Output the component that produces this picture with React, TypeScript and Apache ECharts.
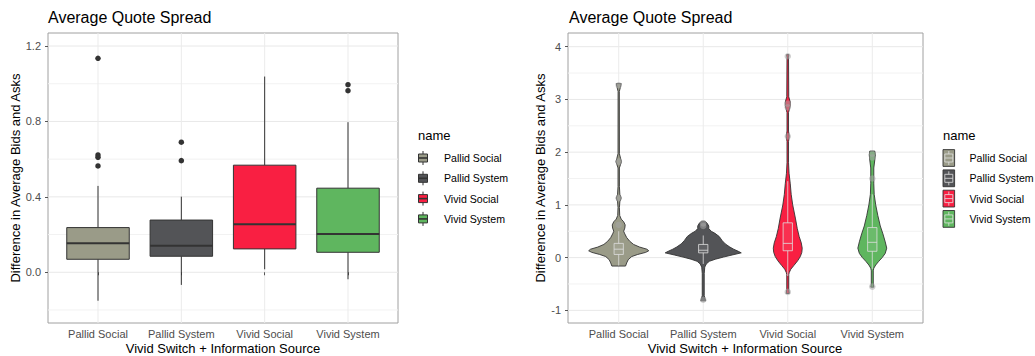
import React, { useEffect, useRef } from "react";
import * as echarts from "echarts";

const FONT = "Liberation Sans, Arial, Helvetica, sans-serif";

const CATEGORIES = ["Pallid Social", "Pallid System", "Vivid Social", "Vivid System"];
const COLORS = ["#9a9b88", "#535457", "#f91f42", "#5fb65f"];
const TITLE = "Average Quote Spread";
const X_TITLE = "Vivid Switch + Information Source";
const Y_TITLE = "Difference in Average Bids and Asks";
const LEGEND_TITLE = "name";

// ---- Left panel: boxplot [lower whisker, Q1, median, Q3, upper whisker]
const BOX_PALLID_SOCIAL = [-0.151, 0.069, 0.154, 0.237, 0.458];
const BOX_PALLID_SYSTEM = [-0.067, 0.085, 0.141, 0.277, 0.401];
const BOX_VIVID_SOCIAL = [0.016, 0.124, 0.255, 0.568, 1.038];
const BOX_VIVID_SYSTEM = [-0.037, 0.106, 0.203, 0.446, 0.796];
const BOX_STATS = [BOX_PALLID_SOCIAL, BOX_PALLID_SYSTEM, BOX_VIVID_SOCIAL, BOX_VIVID_SYSTEM];

const OUT_PALLID_SOCIAL = [1.135, 0.622, 0.61, 0.564];
const OUT_PALLID_SYSTEM = [0.69, 0.592];
const OUT_VIVID_SOCIAL: number[] = [];
const OUT_VIVID_SYSTEM = [0.995, 0.963];
const BOX_OUTLIERS = [OUT_PALLID_SOCIAL, OUT_PALLID_SYSTEM, OUT_VIVID_SOCIAL, OUT_VIVID_SYSTEM];

const LEFT_Y_TICKS = [0, 0.4, 0.8, 1.2];
const LEFT_Y_MINOR = [-0.2, 0.2, 0.6, 1.0];
const LEFT_Y_MIN = -0.269;
const LEFT_Y_MAX = 1.269;

// ---- Right panel: violin density profiles [value, relative density]
const VIOLIN_PALLID_SOCIAL = [
  [-0.16, 0.18], [-0.1, 0.21], [-0.04, 0.25], [0.02, 0.34], [0.06, 0.5], [0.1, 0.71],
  [0.13, 0.79], [0.16, 0.74], [0.2, 0.55], [0.25, 0.39], [0.31, 0.29], [0.38, 0.21],
  [0.45, 0.16], [0.5, 0.13], [0.56, 0.16], [0.62, 0.17], [0.68, 0.13], [0.73, 0.066],
  [0.8, 0.026], [0.95, 0.018], [1.06, 0.03], [1.13, 0.066], [1.2, 0.03], [1.35, 0.018],
  [1.7, 0.018], [1.77, 0.05], [1.82, 0.074], [1.88, 0.05], [1.97, 0.018], [3.15, 0.016],
  [3.22, 0.04], [3.3, 0.066],
];
const VIOLIN_PALLID_SYSTEM = [
  [-0.82, 0.066], [-0.78, 0.05], [-0.72, 0.026], [-0.3, 0.026], [-0.18, 0.04], [-0.12, 0.08],
  [-0.07, 0.16], [-0.03, 0.32], [0.01, 0.53], [0.05, 0.76], [0.09, 1.0], [0.12, 0.92],
  [0.16, 0.8], [0.2, 0.7], [0.26, 0.58], [0.32, 0.5], [0.4, 0.42], [0.46, 0.31],
  [0.5, 0.21], [0.55, 0.145], [0.6, 0.145], [0.65, 0.105], [0.69, 0.05],
];
const VIOLIN_VIVID_SOCIAL = [
  [-0.68, 0.04], [-0.6, 0.026], [-0.32, 0.026], [-0.28, 0.04], [-0.22, 0.08], [-0.15, 0.16],
  [-0.06, 0.26], [0.02, 0.33], [0.1, 0.37], [0.18, 0.38], [0.28, 0.355], [0.4, 0.3],
  [0.55, 0.25], [0.75, 0.2], [1.0, 0.13], [1.2, 0.09], [1.4, 0.066], [1.6, 0.034],
  [1.8, 0.02], [2.2, 0.02], [2.3, 0.04], [2.4, 0.02], [2.75, 0.02], [2.88, 0.066],
  [2.95, 0.066], [3.05, 0.026], [3.8, 0.02], [3.85, 0.03],
];
const VIOLIN_VIVID_SYSTEM = [
  [-0.56, 0.04], [-0.5, 0.026], [-0.25, 0.026], [-0.2, 0.04], [-0.14, 0.09], [-0.07, 0.17],
  [0.0, 0.26], [0.08, 0.34], [0.18, 0.38], [0.3, 0.34], [0.45, 0.28], [0.6, 0.21],
  [0.8, 0.145], [1.0, 0.09], [1.2, 0.05], [1.4, 0.04], [1.7, 0.04], [1.85, 0.066],
  [1.95, 0.08], [2.02, 0.066],
];
const VIOLINS = [VIOLIN_PALLID_SOCIAL, VIOLIN_PALLID_SYSTEM, VIOLIN_VIVID_SOCIAL, VIOLIN_VIVID_SYSTEM];

// inner boxplots of the right panel
const INNER_PALLID_SOCIAL = [-0.15, 0.06, 0.16, 0.27, 0.5];
const INNER_PALLID_SYSTEM = [-0.12, 0.09, 0.14, 0.25, 0.42];
const INNER_VIVID_SOCIAL = [-0.35, 0.13, 0.27, 0.66, 1.45];
const INNER_VIVID_SYSTEM = [-0.22, 0.12, 0.29, 0.57, 1.2];
const INNER_STATS = [INNER_PALLID_SOCIAL, INNER_PALLID_SYSTEM, INNER_VIVID_SOCIAL, INNER_VIVID_SYSTEM];

const INNER_OUT_PALLID_SOCIAL = [0.62, 1.13, 1.82, 3.27];
const INNER_OUT_PALLID_SYSTEM = [0.6, 0.65, -0.8];
const INNER_OUT_VIVID_SOCIAL = [-0.65, 2.3, 2.85, 2.92, 3.82];
const INNER_OUT_VIVID_SYSTEM = [-0.55, 1.5, 1.9, 1.97];
const INNER_OUTLIERS = [INNER_OUT_PALLID_SOCIAL, INNER_OUT_PALLID_SYSTEM, INNER_OUT_VIVID_SOCIAL, INNER_OUT_VIVID_SYSTEM];

const RIGHT_Y_TICKS = [-1, 0, 1, 2, 3, 4];
const RIGHT_Y_MINOR = [-0.5, 0.5, 1.5, 2.5, 3.5];
const RIGHT_Y_MIN = -1.24;
const RIGHT_Y_MAX = 4.26;

const X_POS = [1, 2, 3, 4];
const X_MIN = 0.4;
const X_MAX = 4.6;
const BOX_HALF = 0.375;
const INNER_HALF = 0.055;
const VIOLIN_HALF = 0.45;

function gridRender(params: any, api: any) {
  const kind = api.value(0);
  const v = api.value(1);
  const cs = params.coordSys;
  if (kind === 2) {
    const x = api.coord([v, 0])[0];
    return {
      type: "line",
      shape: { x1: x, y1: cs.y, x2: x, y2: cs.y + cs.height },
      style: { stroke: "#ebebeb", lineWidth: 1 },
      silent: true,
    };
  }
  const y = api.coord([1, v])[1];
  return {
    type: "line",
    shape: { x1: cs.x, y1: y, x2: cs.x + cs.width, y2: y },
    style: { stroke: kind === 0 ? "#e8e8e8" : "#f2f2f2", lineWidth: 1 },
    silent: true,
  };
}

function makeBoxRender(halfW: number, fillOf: (i: number) => string, stroke: string, lineW: number, medW: number) {
  return (params: any, api: any) => {
    const c = api.value(0);
    const lw = api.value(1), q1 = api.value(2), med = api.value(3), q3 = api.value(4), uw = api.value(5);
    const tl = api.coord([c - halfW, q3]);
    const br = api.coord([c + halfW, q1]);
    const a = api.coord([c, lw]);
    const b = api.coord([c, q1]);
    const d = api.coord([c, q3]);
    const e = api.coord([c, uw]);
    const ml = api.coord([c - halfW, med]);
    const mr = api.coord([c + halfW, med]);
    return {
      type: "group",
      children: [
        { type: "line", shape: { x1: a[0], y1: a[1], x2: b[0], y2: b[1] }, style: { stroke, lineWidth: lineW } },
        { type: "line", shape: { x1: d[0], y1: d[1], x2: e[0], y2: e[1] }, style: { stroke, lineWidth: lineW } },
        {
          type: "rect",
          shape: { x: tl[0], y: tl[1], width: br[0] - tl[0], height: br[1] - tl[1] },
          style: { fill: fillOf(params.dataIndex), stroke, lineWidth: lineW },
        },
        { type: "line", shape: { x1: ml[0], y1: ml[1], x2: mr[0], y2: mr[1] }, style: { stroke, lineWidth: medW } },
      ],
    };
  };
}

function violinRender(params: any, api: any) {
  const i = params.dataIndex;
  const c = api.value(0);
  const prof = VIOLINS[i];
  const left = prof.map(([v, d]) => api.coord([c - d * VIOLIN_HALF, v]));
  const right = prof.slice().reverse().map(([v, d]) => api.coord([c + d * VIOLIN_HALF, v]));
  return {
    type: "polygon",
    shape: { points: [...left, ...right] },
    style: { fill: COLORS[i], stroke: "#333333", lineWidth: 0.9 },
  };
}

function gridData(major: number[], minor: number[]) {
  return [
    ...minor.map((v) => [1, v]),
    ...major.map((v) => [0, v]),
    ...X_POS.map((v) => [2, v]),
  ];
}

function legend(x0: number, violin: boolean) {
  const els: any[] = [
    {
      type: "text",
      x: x0,
      y: 135,
      style: { text: LEGEND_TITLE, fontSize: 13, fontFamily: FONT, fill: "#000", textAlign: "left", textVerticalAlign: "middle" },
    },
  ];
  CATEGORIES.forEach((name, i) => {
    const cy = 158 + i * 20.3;
    if (violin) {
      const cx = x0 + 5.8;
      els.push({
        type: "rect",
        shape: { x: cx - 5.8, y: cy - 8.4, width: 11.6, height: 16.8 },
        style: { fill: COLORS[i], stroke: "#333333", lineWidth: 0.9 },
      });
      const ls = { stroke: "rgba(225,225,225,0.8)", lineWidth: 1 };
      els.push({ type: "line", shape: { x1: cx, y1: cy - 7, x2: cx, y2: cy - 4 }, style: ls });
      els.push({ type: "line", shape: { x1: cx, y1: cy + 4, x2: cx, y2: cy + 7 }, style: ls });
      els.push({ type: "rect", shape: { x: cx - 4, y: cy - 4, width: 8, height: 8 }, style: { fill: "none", ...ls } });
      els.push({ type: "line", shape: { x1: cx - 4, y1: cy, x2: cx + 4, y2: cy }, style: ls });
    } else {
      const cx = x0 + 5;
      const ls = { stroke: "#333333", lineWidth: 1 };
      els.push({ type: "line", shape: { x1: cx, y1: cy - 7, x2: cx, y2: cy + 7 }, style: ls });
      els.push({
        type: "rect",
        shape: { x: cx - 4.5, y: cy - 4, width: 9, height: 8 },
        style: { fill: COLORS[i], ...ls },
      });
      els.push({ type: "line", shape: { x1: cx - 4.5, y1: cy, x2: cx + 4.5, y2: cy }, style: { stroke: "#333333", lineWidth: 1.6 } });
    }
    els.push({
      type: "text",
      x: violin ? x0 + 26.5 : x0 + 26,
      y: cy,
      style: { text: name, fontSize: 10.6, fontFamily: FONT, fill: "#000", textAlign: "left", textVerticalAlign: "middle" },
    });
  });
  return els;
}

function titles(plotLeft: number, plotCenterX: number, yTitleX: number) {
  return [
    {
      type: "text",
      x: plotLeft,
      y: 17,
      style: { text: TITLE, fontSize: 16, fontFamily: FONT, fill: "#000", textAlign: "left", textVerticalAlign: "middle" },
    },
    {
      type: "text",
      x: plotCenterX,
      y: 348,
      style: { text: X_TITLE, fontSize: 13, fontFamily: FONT, fill: "#000", textAlign: "center", textVerticalAlign: "middle" },
    },
    {
      type: "text",
      x: yTitleX,
      y: 178,
      rotation: Math.PI / 2,
      style: { text: Y_TITLE, fontSize: 13, fontFamily: FONT, fill: "#000", textAlign: "center", textVerticalAlign: "middle" },
    },
  ];
}

function xAxis(gridIndex: number) {
  return {
    gridIndex,
    type: "value",
    min: X_MIN,
    max: X_MAX,
    axisLine: { show: false },
    splitLine: { show: false },
    axisTick: { show: true, length: 3, lineStyle: { color: "#555" }, customValues: X_POS },
    axisLabel: {
      customValues: X_POS,
      formatter: (v: number) => CATEGORIES[Math.round(v) - 1],
      color: "#4d4d4d",
      fontSize: 11,
      fontFamily: FONT,
      margin: 5,
    },
  };
}

function yAxis(gridIndex: number, min: number, max: number, ticks: number[], fmt: (v: number) => string) {
  return {
    gridIndex,
    type: "value",
    min,
    max,
    axisLine: { show: false },
    splitLine: { show: false },
    axisTick: { show: true, length: 3, lineStyle: { color: "#555" }, customValues: ticks },
    axisLabel: { customValues: ticks, formatter: fmt, color: "#4d4d4d", fontSize: 11, fontFamily: FONT, margin: 7 },
  };
}

export default function App() {
  const ref = useRef<HTMLDivElement>(null);
  useEffect(() => {
    if (!ref.current) return;
    const chart = echarts.init(ref.current, undefined, { renderer: "svg" });
    const gridStyle = { show: true, borderColor: "#a0a0a0", borderWidth: 1, backgroundColor: "#ffffff" };
    const option: any = {
      animation: false,
      backgroundColor: "#ffffff",
      textStyle: { fontFamily: FONT },
      grid: [
        { left: 48, top: 33, width: 350, height: 290, ...gridStyle },
        { left: 568, top: 33, width: 355, height: 290, ...gridStyle },
      ],
      xAxis: [xAxis(0), xAxis(1)],
      yAxis: [
        yAxis(0, LEFT_Y_MIN, LEFT_Y_MAX, LEFT_Y_TICKS, (v: number) => v.toFixed(1)),
        yAxis(1, RIGHT_Y_MIN, RIGHT_Y_MAX, RIGHT_Y_TICKS, (v: number) => String(v)),
      ],
      series: [
        {
          type: "custom",
          xAxisIndex: 0,
          yAxisIndex: 0,
          silent: true,
          z: 0,
          renderItem: gridRender,
          data: gridData(LEFT_Y_TICKS, LEFT_Y_MINOR),
        },
        {
          type: "custom",
          xAxisIndex: 1,
          yAxisIndex: 1,
          silent: true,
          z: 0,
          renderItem: gridRender,
          data: gridData(RIGHT_Y_TICKS, RIGHT_Y_MINOR),
        },
        {
          type: "custom",
          xAxisIndex: 0,
          yAxisIndex: 0,
          z: 2,
          renderItem: makeBoxRender(BOX_HALF, (i) => COLORS[i], "#333333", 1, 2),
          data: BOX_STATS.map((s, i) => [X_POS[i], ...s]),
        },
        {
          type: "scatter",
          xAxisIndex: 0,
          yAxisIndex: 0,
          z: 3,
          symbolSize: 5.5,
          itemStyle: { color: "#333333", opacity: 1 },
          data: BOX_OUTLIERS.flatMap((arr, i) => arr.map((v) => [X_POS[i], v])),
        },
        {
          type: "custom",
          xAxisIndex: 1,
          yAxisIndex: 1,
          z: 2,
          renderItem: violinRender,
          data: VIOLINS.map((_, i) => [X_POS[i], 0]),
        },
        {
          type: "custom",
          xAxisIndex: 1,
          yAxisIndex: 1,
          z: 3,
          renderItem: makeBoxRender(INNER_HALF, () => "rgba(255,255,255,0.08)", "rgba(222,222,222,0.8)", 1, 1),
          data: INNER_STATS.map((s, i) => [X_POS[i], ...s]),
        },
        {
          type: "scatter",
          xAxisIndex: 1,
          yAxisIndex: 1,
          z: 4,
          symbolSize: 6.5,
          itemStyle: { color: "rgba(165,165,165,0.55)", opacity: 1 },
          data: INNER_OUTLIERS.flatMap((arr, i) => arr.map((v) => [X_POS[i], v])),
        },
      ],
      graphic: [
        ...titles(48, 223, 15),
        ...titles(569, 745, 540),
        ...legend(418, false),
        ...legend(943, true),
      ],
    };
    chart.setOption(option);
    return () => chart.dispose();
  }, []);
  return <div ref={ref} style={{ position: "absolute", left: 0, top: 0, width: 1035, height: 356 }} />;
}
